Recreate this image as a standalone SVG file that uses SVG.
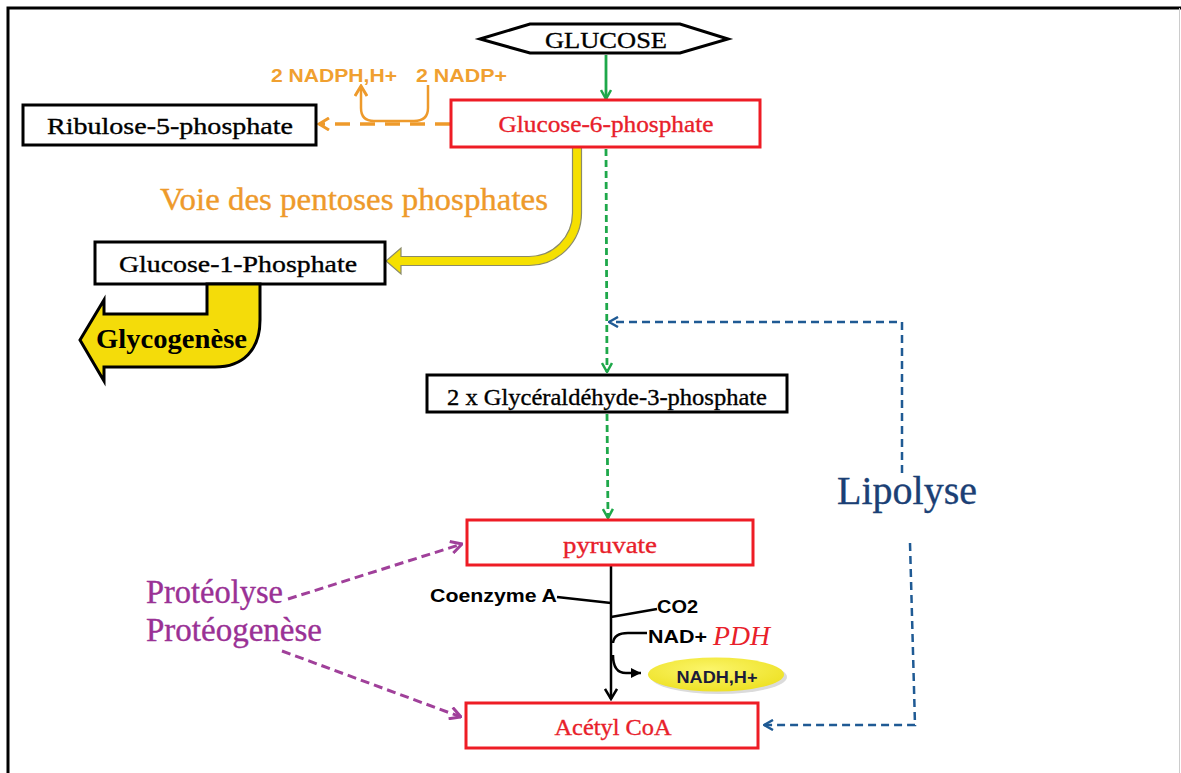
<svg xmlns="http://www.w3.org/2000/svg" width="1181" height="773" viewBox="0 0 1181 773">
<style>
.serif{font-family:"Liberation Serif","Times New Roman",serif;stroke-width:0.35;}
.sans{font-family:"Liberation Sans",Arial,sans-serif;font-weight:bold;}
.box{fill:#fff;stroke:#000;stroke-width:3;}
.rbox{fill:#fff;stroke:#EE1C25;stroke-width:3;}
.lbl{font-size:24px;fill:#000;stroke:#000;text-anchor:middle;}
.rlbl{font-size:24px;fill:#E8202A;stroke:#E8202A;text-anchor:middle;}
.green{stroke:#1EA84A;stroke-width:2.8;fill:none;}
.gdash{stroke:#1EA84A;stroke-width:2.8;fill:none;stroke-dasharray:7 4;}
.bdash{stroke:#1F5A94;stroke-width:2.5;fill:none;stroke-dasharray:8 5;}
.pdash{stroke:#A0409A;stroke-width:3;fill:none;stroke-dasharray:9 5;}
.odash{stroke:#EE9A2B;stroke-width:3.5;fill:none;stroke-dasharray:15 10;}
.orange{stroke:#EE9A2B;stroke-width:2.5;fill:none;}
.blk{stroke:#000;stroke-width:2.5;fill:none;}
</style>
<defs>
<marker id="gA" viewBox="0 0 12 12" refX="11" refY="6" markerWidth="12" markerHeight="12" markerUnits="userSpaceOnUse" orient="auto"><path d="M2,1 L11,6 L2,11" fill="none" stroke="#1EA84A" stroke-width="2.5"/></marker>
<marker id="bA" viewBox="0 0 12 12" refX="11" refY="6" markerWidth="12" markerHeight="12" markerUnits="userSpaceOnUse" orient="auto"><path d="M2,1 L11,6 L2,11" fill="none" stroke="#1F5A94" stroke-width="2.5"/></marker>
<marker id="pA" viewBox="0 0 14 14" refX="13" refY="7" markerWidth="14" markerHeight="14" markerUnits="userSpaceOnUse" orient="auto"><path d="M2,1 L13,7 L2,13" fill="none" stroke="#A0409A" stroke-width="3"/></marker>
<marker id="oA" viewBox="0 0 14 14" refX="12" refY="7" markerWidth="14" markerHeight="14" markerUnits="userSpaceOnUse" orient="auto"><path d="M2,1 L12,7 L2,13" fill="none" stroke="#EE9A2B" stroke-width="3"/></marker>
<marker id="kA" viewBox="0 0 14 14" refX="12" refY="7" markerWidth="14" markerHeight="14" markerUnits="userSpaceOnUse" orient="auto"><path d="M2,1 L12,7 L2,13" fill="none" stroke="#000" stroke-width="2.5"/></marker>
<marker id="kT" viewBox="0 0 12 12" refX="11" refY="6" markerWidth="12" markerHeight="12" markerUnits="userSpaceOnUse" orient="auto"><path d="M1,1 L11,6 L1,11 Z" fill="#000"/></marker>
<radialGradient id="yel" cx="0.45" cy="0.35" r="0.7"><stop offset="0" stop-color="#FBF56A"/><stop offset="1" stop-color="#EDE020"/></radialGradient>
</defs>

<!-- frame -->
<path d="M8,773 L8,8 L1181,8" fill="none" stroke="#000" stroke-width="3"/>
<line x1="1179.5" y1="8" x2="1179.5" y2="773" stroke="#ccc" stroke-width="1"/>

<!-- connectors -->
<g id="connectors">
  <line x1="606" y1="55" x2="606" y2="99" class="green" marker-end="url(#gA)"/>
  <line x1="606" y1="149" x2="607" y2="372" class="gdash" marker-end="url(#gA)"/>
  <line x1="607" y1="414" x2="608" y2="518" class="gdash" marker-end="url(#gA)"/>
  <line x1="450" y1="124" x2="319" y2="124" class="odash" marker-end="url(#oA)"/>
  <path d="M428,85 L428,108 Q428,121 414,121 L374,121 Q361,121 361,108 L361,86" class="orange" marker-end="url(#oA)"/>
  <path d="M902,473 L902,322 L609,322" class="bdash" marker-end="url(#bA)"/>
  <path d="M910,543 L915,725 L764,725" class="bdash" marker-end="url(#bA)"/>
  <line x1="288" y1="599" x2="462" y2="544" class="pdash" marker-end="url(#pA)"/>
  <line x1="282" y1="651" x2="461" y2="717" class="pdash" marker-end="url(#pA)"/>
  <line x1="611" y1="566" x2="611" y2="699" class="blk" marker-end="url(#kA)"/>
  <line x1="557" y1="597" x2="611" y2="603" class="blk"/>
  <line x1="611" y1="617" x2="657" y2="609" class="blk"/>
  <path d="M613,643 Q614,633 628,633 L647,633" class="blk"/>
  <path d="M613,655 Q613,673 626,673 L641,673" class="blk" marker-end="url(#kT)"/>
  <path d="M581.5,147 L581.5,213 A52.5,52.5 0 0 1 529,265.5 L401,265.5 L401,274 L386,261 L401,248 L401,256.5 L529,256.5 A43.5,43.5 0 0 0 572.5,213 L572.5,147 Z" fill="#F5E000" stroke="#8a8a6a" stroke-width="1.2"/>
</g>

<g id="glucose">
  <polygon points="480,39 530,24 680,24 728,39 680,53 530,53" class="box"/>
  <text x="606" y="48" class="serif lbl" font-size="25" textLength="122" lengthAdjust="spacingAndGlyphs">GLUCOSE</text>
</g>
<g id="g6p">
  <rect x="451" y="100" width="309" height="47" class="rbox"/>
  <text x="606" y="132" class="serif rlbl" textLength="215" lengthAdjust="spacingAndGlyphs">Glucose-6-phosphate</text>
</g>
<g id="ribulose">
  <rect x="23" y="105" width="293" height="40" class="box"/>
  <text x="170" y="134" class="serif lbl" textLength="246" lengthAdjust="spacingAndGlyphs">Ribulose-5-phosphate</text>
</g>
<g id="nadp">
  <text x="271" y="82" class="sans" font-size="19" fill="#F0A030" textLength="126" lengthAdjust="spacingAndGlyphs">2 NADPH,H+</text>
  <text x="416" y="82" class="sans" font-size="19" fill="#F0A030" textLength="91" lengthAdjust="spacingAndGlyphs">2 NADP+</text>
</g>
<g id="voie">
  <text x="160" y="210" class="serif" font-size="31" fill="#EE9A2B" stroke="#EE9A2B" textLength="388" lengthAdjust="spacingAndGlyphs">Voie des pentoses phosphates</text>
</g>
<g id="g1p">
  <rect x="95" y="242" width="290" height="42" class="box"/>
  <text x="238" y="272" class="serif lbl" textLength="238" lengthAdjust="spacingAndGlyphs">Glucose-1-Phosphate</text>
</g>
<g id="glycogenese">
  <path d="M207,284 L207,314 L104,314 L104,300 L80,340 L104,381 L104,367 L215,367 C243,367 260,350 260,320 L260,284 Z" fill="#F4DC0A" stroke="#000" stroke-width="3" stroke-linejoin="miter"/>
  <text x="96" y="348" class="serif" font-size="27" font-weight="bold" fill="#000" textLength="151" lengthAdjust="spacingAndGlyphs">Glycogenèse</text>
</g>
<g id="g3p">
  <rect x="427" y="375" width="360" height="37" class="box"/>
  <text x="607" y="405" class="serif lbl" font-size="22" textLength="320" lengthAdjust="spacingAndGlyphs">2 x Glycéraldéhyde-3-phosphate</text>
</g>
<g id="pyruvate">
  <rect x="467" y="520" width="286" height="45" class="rbox"/>
  <text x="610" y="553" class="serif rlbl" textLength="94" lengthAdjust="spacingAndGlyphs">pyruvate</text>
</g>
<g id="acetylcoa">
  <rect x="466" y="703" width="292" height="45" class="rbox"/>
  <text x="613" y="735" class="serif rlbl" textLength="117" lengthAdjust="spacingAndGlyphs">Acétyl CoA</text>
</g>
<g id="pdh">
  <text x="430" y="602" class="sans" font-size="19" fill="#000" textLength="127" lengthAdjust="spacingAndGlyphs">Coenzyme A</text>
  <text x="657" y="613" class="sans" font-size="18" fill="#000" textLength="41" lengthAdjust="spacingAndGlyphs">CO2</text>
  <text x="648" y="643" class="sans" font-size="19" fill="#000" textLength="59" lengthAdjust="spacingAndGlyphs">NAD+</text>
  <text x="713" y="645" class="serif" font-size="28" font-style="italic" fill="#E8202A" textLength="57" lengthAdjust="spacingAndGlyphs">PDH</text>
</g>
<g id="nadh">
  <ellipse cx="719" cy="677" rx="68" ry="17" fill="#999" opacity="0.35"/>
  <ellipse cx="716" cy="674.5" rx="68" ry="17" fill="url(#yel)"/>
  <text x="717" y="683" class="sans" font-size="17" fill="#1B1B3A" text-anchor="middle" textLength="81" lengthAdjust="spacingAndGlyphs">NADH,H+</text>
</g>
<g id="proteolyse">
  <text x="146" y="603" class="serif" font-size="33" fill="#9A3195" stroke="#9A3195" textLength="137" lengthAdjust="spacingAndGlyphs">Protéolyse</text>
  <text x="146" y="641" class="serif" font-size="33" fill="#9A3195" stroke="#9A3195" textLength="176" lengthAdjust="spacingAndGlyphs">Protéogenèse</text>
</g>
<g id="lipolyse">
  <text x="837" y="504" class="serif" font-size="40" fill="#1B3F75" stroke="#1B3F75" textLength="140" lengthAdjust="spacingAndGlyphs">Lipolyse</text>
</g>
</svg>
